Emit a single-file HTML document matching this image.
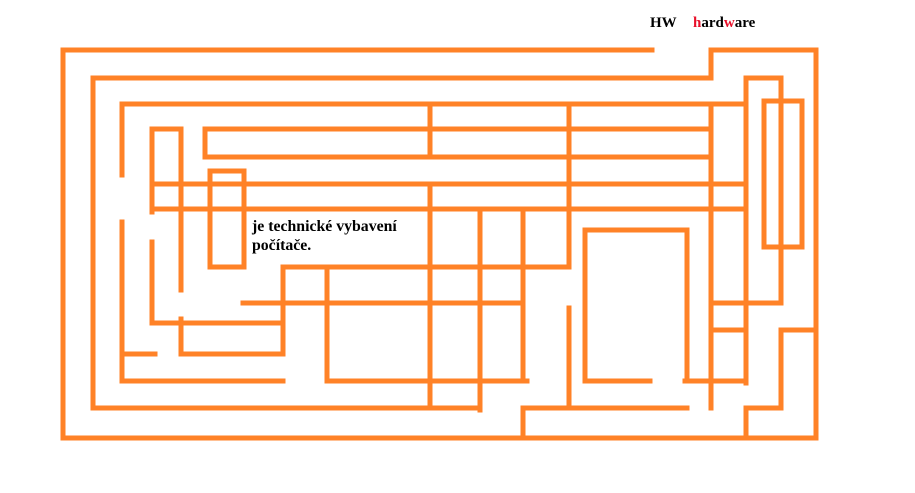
<!DOCTYPE html>
<html><head><meta charset="utf-8"><style>
body{margin:0;background:#fff;width:915px;height:493px;overflow:hidden;position:relative}
.t{position:absolute;font-family:"Liberation Serif",serif;font-weight:bold;font-size:15px;color:#000;white-space:nowrap}
.b{font-size:15.8px}
.r{color:#e8102a}
</style></head><body>
<svg width="915" height="493" style="position:absolute;left:0;top:0" stroke="#FF8227" stroke-width="5" stroke-linecap="square" fill="none">
<path d="M652 50 H63 V438 H816 V50 H711 V78 H93 V408 H480"/>
<path d="M480 211 V410"/>
<path d="M746 104 H122 V175 M122 222 V381 H283"/>
<path d="M327 381 H527"/>
<path d="M430 104 V157 M430 185 V408"/>
<path d="M569 104 V267 M569 308 V408"/>
<path d="M711 157 H205 V129 H711"/>
<path d="M711 104 V408"/>
<path d="M746 383 V78 H781 V303"/>
<rect x="764" y="101" width="38" height="146"/>
<path d="M152 184 H746 M152 209 H746"/>
<path d="M283 267 H569"/>
<path d="M243 303 H523"/>
<path d="M711 303 H781 M711 330 H746"/>
<path d="M816 330 H781 V408 H746 V438"/>
<path d="M585 381 H650 M685 381 H746"/>
<path d="M585 381 V230 H687 V381"/>
<path d="M480 408 V410 M523 408 H687 M523 408 V438"/>
<path d="M523 209 V381"/>
<path d="M181 129 H152 V212 M152 242 V323 H283"/>
<path d="M181 129 V290 M181 319 V354 H283 M122 354 H155"/>
<path d="M283 267 V354 M327 267 V381"/>
<rect x="210" y="171" width="34" height="96"/>
</svg>
<div class="t b" style="left:252px;top:218px">je technické vybavení</div>
<div class="t b" style="left:252px;top:237px">počítače.</div>
<div class="t" style="left:650px;top:15px">HW</div>
<div class="t" style="left:693px;top:15px"><span class="r">h</span>ard<span class="r">w</span>are</div>
</body></html>
